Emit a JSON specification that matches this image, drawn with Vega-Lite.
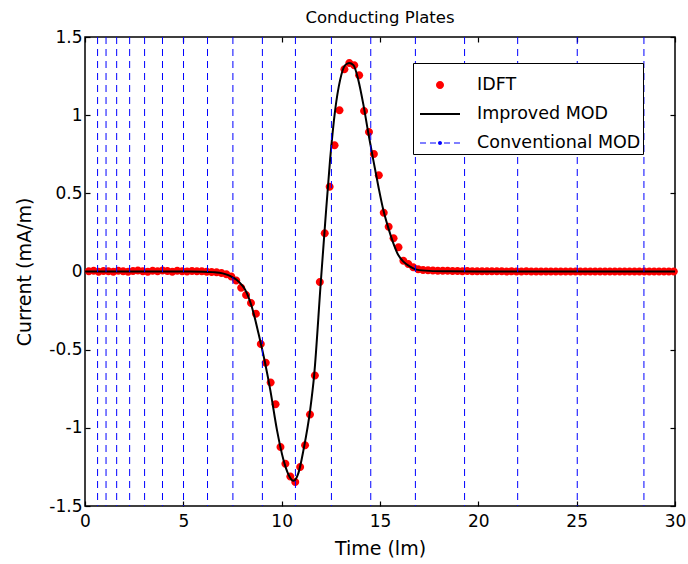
{
  "$schema": "https://vega.github.io/schema/vega-lite/v6.json",
  "width": 590,
  "height": 469,
  "autosize": {"type": "none"},
  "padding": {"left": 85, "top": 37, "right": 13, "bottom": 58},
  "background": "white",
  "title": {"text": "Conducting Plates", "fontSize": 16.5, "font": "DejaVu Sans", "fontWeight": "normal", "color": "black", "offset": 2},
  "data": {"values": [
      {"series": "IDFT", "x": 0.19, "y": 0.002}, {"series": "IDFT", "x": 0.44, "y": 0.004}, {"series": "IDFT", "x": 0.69, "y": -0.001}, {"series": "IDFT", "x": 0.94, "y": 0.003},
      {"series": "IDFT", "x": 1.19, "y": 0.001}, {"series": "IDFT", "x": 1.44, "y": -0.002}, {"series": "IDFT", "x": 1.69, "y": 0.004}, {"series": "IDFT", "x": 1.94, "y": 0.002},
      {"series": "IDFT", "x": 2.19, "y": -0.001}, {"series": "IDFT", "x": 2.44, "y": 0.003}, {"series": "IDFT", "x": 2.69, "y": 0.006}, {"series": "IDFT", "x": 2.94, "y": 0.002},
      {"series": "IDFT", "x": 3.19, "y": -0.002}, {"series": "IDFT", "x": 3.44, "y": 0.004}, {"series": "IDFT", "x": 3.69, "y": 0.001}, {"series": "IDFT", "x": 3.94, "y": 0.006},
      {"series": "IDFT", "x": 4.19, "y": 0.003}, {"series": "IDFT", "x": 4.44, "y": -0.001}, {"series": "IDFT", "x": 4.69, "y": 0.005}, {"series": "IDFT", "x": 4.94, "y": 0.002},
      {"series": "IDFT", "x": 5.19, "y": 0.0}, {"series": "IDFT", "x": 5.44, "y": 0.003}, {"series": "IDFT", "x": 5.69, "y": 0.001}, {"series": "IDFT", "x": 5.94, "y": 0.002},
      {"series": "IDFT", "x": 6.19, "y": -0.001}, {"series": "IDFT", "x": 6.44, "y": -0.003}, {"series": "IDFT", "x": 6.69, "y": -0.005}, {"series": "IDFT", "x": 6.94, "y": -0.010},
      {"series": "IDFT", "x": 7.19, "y": -0.018}, {"series": "IDFT", "x": 7.44, "y": -0.032}, {"series": "IDFT", "x": 7.69, "y": -0.057}, {"series": "IDFT", "x": 7.94, "y": -0.104},
      {"series": "IDFT", "x": 8.19, "y": -0.150}, {"series": "IDFT", "x": 8.44, "y": -0.201}, {"series": "IDFT", "x": 8.69, "y": -0.270}, {"series": "IDFT", "x": 8.94, "y": -0.463},
      {"series": "IDFT", "x": 9.19, "y": -0.583}, {"series": "IDFT", "x": 9.44, "y": -0.710}, {"series": "IDFT", "x": 9.69, "y": -0.849}, {"series": "IDFT", "x": 9.94, "y": -1.123},
      {"series": "IDFT", "x": 10.19, "y": -1.230}, {"series": "IDFT", "x": 10.44, "y": -1.311}, {"series": "IDFT", "x": 10.69, "y": -1.347}, {"series": "IDFT", "x": 10.94, "y": -1.251},
      {"series": "IDFT", "x": 11.19, "y": -1.111}, {"series": "IDFT", "x": 11.44, "y": -0.915}, {"series": "IDFT", "x": 11.69, "y": -0.666}, {"series": "IDFT", "x": 11.94, "y": -0.067},
      {"series": "IDFT", "x": 12.19, "y": 0.244}, {"series": "IDFT", "x": 12.44, "y": 0.542}, {"series": "IDFT", "x": 12.69, "y": 0.808}, {"series": "IDFT", "x": 12.94, "y": 1.032},
      {"series": "IDFT", "x": 13.19, "y": 1.294}, {"series": "IDFT", "x": 13.44, "y": 1.334}, {"series": "IDFT", "x": 13.69, "y": 1.319}, {"series": "IDFT", "x": 13.94, "y": 1.256},
      {"series": "IDFT", "x": 14.19, "y": 1.027}, {"series": "IDFT", "x": 14.44, "y": 0.893}, {"series": "IDFT", "x": 14.69, "y": 0.751}, {"series": "IDFT", "x": 14.94, "y": 0.615},
      {"series": "IDFT", "x": 15.19, "y": 0.376}, {"series": "IDFT", "x": 15.44, "y": 0.286}, {"series": "IDFT", "x": 15.69, "y": 0.212}, {"series": "IDFT", "x": 15.94, "y": 0.155},
      {"series": "IDFT", "x": 16.19, "y": 0.069}, {"series": "IDFT", "x": 16.44, "y": 0.048}, {"series": "IDFT", "x": 16.69, "y": 0.027}, {"series": "IDFT", "x": 16.94, "y": 0.014},
      {"series": "IDFT", "x": 17.19, "y": 0.010}, {"series": "IDFT", "x": 17.44, "y": 0.008}, {"series": "IDFT", "x": 17.69, "y": 0.006}, {"series": "IDFT", "x": 17.94, "y": 0.005},
      {"series": "IDFT", "x": 18.19, "y": 0.004}, {"series": "IDFT", "x": 18.44, "y": 0.004}, {"series": "IDFT", "x": 18.69, "y": 0.003}, {"series": "IDFT", "x": 18.94, "y": 0.003},
      {"series": "IDFT", "x": 19.19, "y": 0.002}, {"series": "IDFT", "x": 19.44, "y": 0.003}, {"series": "IDFT", "x": 19.69, "y": 0.002}, {"series": "IDFT", "x": 19.94, "y": 0.002},
      {"series": "IDFT", "x": 20.19, "y": 0.001}, {"series": "IDFT", "x": 20.44, "y": 0.002}, {"series": "IDFT", "x": 20.69, "y": 0.001}, {"series": "IDFT", "x": 20.94, "y": 0.001},
      {"series": "IDFT", "x": 21.19, "y": 0.001}, {"series": "IDFT", "x": 21.44, "y": 0.0}, {"series": "IDFT", "x": 21.69, "y": 0.001}, {"series": "IDFT", "x": 21.94, "y": 0.0},
      {"series": "IDFT", "x": 22.19, "y": 0.0}, {"series": "IDFT", "x": 22.44, "y": 0.001}, {"series": "IDFT", "x": 22.69, "y": 0.0}, {"series": "IDFT", "x": 22.94, "y": 0.0},
      {"series": "IDFT", "x": 23.19, "y": 0.0}, {"series": "IDFT", "x": 23.44, "y": 0.0}, {"series": "IDFT", "x": 23.69, "y": 0.0}, {"series": "IDFT", "x": 23.94, "y": 0.0},
      {"series": "IDFT", "x": 24.19, "y": 0.0}, {"series": "IDFT", "x": 24.44, "y": 0.0}, {"series": "IDFT", "x": 24.69, "y": 0.0}, {"series": "IDFT", "x": 24.94, "y": 0.0},
      {"series": "IDFT", "x": 25.19, "y": 0.0}, {"series": "IDFT", "x": 25.44, "y": 0.0}, {"series": "IDFT", "x": 25.69, "y": 0.0}, {"series": "IDFT", "x": 25.94, "y": 0.0},
      {"series": "IDFT", "x": 26.19, "y": 0.0}, {"series": "IDFT", "x": 26.44, "y": 0.0}, {"series": "IDFT", "x": 26.69, "y": 0.0}, {"series": "IDFT", "x": 26.94, "y": 0.0},
      {"series": "IDFT", "x": 27.19, "y": 0.0}, {"series": "IDFT", "x": 27.44, "y": 0.0}, {"series": "IDFT", "x": 27.69, "y": 0.0}, {"series": "IDFT", "x": 27.94, "y": 0.0},
      {"series": "IDFT", "x": 28.19, "y": 0.0}, {"series": "IDFT", "x": 28.44, "y": 0.0}, {"series": "IDFT", "x": 28.69, "y": 0.0}, {"series": "IDFT", "x": 28.94, "y": 0.0},
      {"series": "IDFT", "x": 29.19, "y": 0.0}, {"series": "IDFT", "x": 29.44, "y": 0.0}, {"series": "IDFT", "x": 29.69, "y": 0.0}, {"series": "IDFT", "x": 29.94, "y": 0.0},
      {"series": "Improved MOD", "x": 0, "y": 0}, {"series": "Improved MOD", "x": 5, "y": 0}, {"series": "Improved MOD", "x": 6, "y": -0.001}, {"series": "Improved MOD", "x": 6.5, "y": -0.004},
      {"series": "Improved MOD", "x": 7.0, "y": -0.012}, {"series": "Improved MOD", "x": 7.25, "y": -0.022}, {"series": "Improved MOD", "x": 7.5, "y": -0.037}, {"series": "Improved MOD", "x": 7.72, "y": -0.054},
      {"series": "Improved MOD", "x": 8.0, "y": -0.09}, {"series": "Improved MOD", "x": 8.15, "y": -0.118}, {"series": "Improved MOD", "x": 8.48, "y": -0.225}, {"series": "Improved MOD", "x": 8.82, "y": -0.395},
      {"series": "Improved MOD", "x": 9.16, "y": -0.587}, {"series": "Improved MOD", "x": 9.42, "y": -0.757}, {"series": "Improved MOD", "x": 9.76, "y": -1.013}, {"series": "Improved MOD", "x": 10.09, "y": -1.204},
      {"series": "Improved MOD", "x": 10.35, "y": -1.3}, {"series": "Improved MOD", "x": 10.6, "y": -1.339}, {"series": "Improved MOD", "x": 10.85, "y": -1.29}, {"series": "Improved MOD", "x": 11.11, "y": -1.141},
      {"series": "Improved MOD", "x": 11.45, "y": -0.885}, {"series": "Improved MOD", "x": 11.65, "y": -0.666}, {"series": "Improved MOD", "x": 11.99, "y": -0.067}, {"series": "Improved MOD", "x": 12.21, "y": 0.308},
      {"series": "Improved MOD", "x": 12.46, "y": 0.712}, {"series": "Improved MOD", "x": 12.72, "y": 1.032}, {"series": "Improved MOD", "x": 12.97, "y": 1.224}, {"series": "Improved MOD", "x": 13.23, "y": 1.32},
      {"series": "Improved MOD", "x": 13.43, "y": 1.334}, {"series": "Improved MOD", "x": 13.65, "y": 1.32}, {"series": "Improved MOD", "x": 13.9, "y": 1.224}, {"series": "Improved MOD", "x": 14.16, "y": 1.064},
      {"series": "Improved MOD", "x": 14.41, "y": 0.883}, {"series": "Improved MOD", "x": 14.66, "y": 0.712}, {"series": "Improved MOD", "x": 14.92, "y": 0.542}, {"series": "Improved MOD", "x": 15.17, "y": 0.393},
      {"series": "Improved MOD", "x": 15.43, "y": 0.276}, {"series": "Improved MOD", "x": 15.68, "y": 0.18}, {"series": "Improved MOD", "x": 15.93, "y": 0.105}, {"series": "Improved MOD", "x": 16.19, "y": 0.063},
      {"series": "Improved MOD", "x": 16.53, "y": 0.031}, {"series": "Improved MOD", "x": 16.87, "y": 0.012}, {"series": "Improved MOD", "x": 17.5, "y": 0.004}, {"series": "Improved MOD", "x": 18.5, "y": 0.001},
      {"series": "Improved MOD", "x": 20, "y": 0}, {"series": "Improved MOD", "x": 30, "y": 0},
      {"series": "Conventional MOD", "x": 0.64}, {"series": "Conventional MOD", "x": 1.07}, {"series": "Conventional MOD", "x": 1.61}, {"series": "Conventional MOD", "x": 2.27},
      {"series": "Conventional MOD", "x": 3.03}, {"series": "Conventional MOD", "x": 3.94}, {"series": "Conventional MOD", "x": 5.01}, {"series": "Conventional MOD", "x": 6.23},
      {"series": "Conventional MOD", "x": 7.52}, {"series": "Conventional MOD", "x": 9.02}, {"series": "Conventional MOD", "x": 10.70}, {"series": "Conventional MOD", "x": 12.53},
      {"series": "Conventional MOD", "x": 14.53}, {"series": "Conventional MOD", "x": 16.80}, {"series": "Conventional MOD", "x": 19.30}, {"series": "Conventional MOD", "x": 22.00},
      {"series": "Conventional MOD", "x": 25.03}, {"series": "Conventional MOD", "x": 28.42}
  ]},
  "layer": [
    {
      "transform": [{"filter": "datum.series === 'IDFT'"}],
      "mark": {"type": "point", "filled": true, "opacity": 1, "size": 1600, "strokeWidth": 0},
      "encoding": {
        "x": {"field": "x", "type": "quantitative", "scale": {"domain": [0, 30], "nice": false, "zero": false},
          "axis": {"orient": "bottom", "values": [0, 5, 10, 15, 20, 25, 30], "title": "Time (lm)", "labelPadding": 12, "titlePadding": 10, "labelFlush": false}},
        "y": {"field": "y", "type": "quantitative", "scale": {"domain": [-1.5, 1.5], "nice": false, "zero": false},
          "axis": {"orient": "left", "values": [-1.5, -1, -0.5, 0, 0.5, 1, 1.5], "title": "Current (mA/m)", "labelPadding": 8, "titlePadding": 14, "labelFlush": false,
            "labelExpr": "datum.value < 0 ? '-' + format(-datum.value, '~g') : format(datum.value, '~g')"}},
        "color": {"field": "series", "type": "nominal",
          "scale": {"domain": ["IDFT", "Improved MOD", "Conventional MOD"], "range": ["#ff0000", "#000000", "#0000ff"]},
          "legend": {"orient": "none", "legendX": 328, "legendY": 26, "title": null, "titlePadding": 0,
            "padding": 2, "rowPadding": -1.5, "strokeColor": "black", "fillColor": "white",
            "labelFontSize": 17.5, "labelFont": "DejaVu Sans", "labelColor": "black", "labelOffset": 17, "labelLimit": 400, "symbolOffset": 5,
            "symbolSize": 1600, "symbolStrokeWidth": 0, "symbolOpacity": 1, "cornerRadius": 0}},
        "shape": {"field": "series", "type": "nominal",
          "scale": {"domain": ["IDFT", "Improved MOD", "Conventional MOD"],
            "range": [
              "M0.2,0A0.2,0.2,0,1,1,-0.2,0A0.2,0.2,0,1,1,0.2,0Z",
              "M-1,-0.05H1V0.05H-1Z",
              "M-1,-0.03H-0.7V0.03H-1ZM-0.5,-0.03H-0.2V0.03H-0.5ZM0.2,-0.03H0.5V0.03H0.2ZM0.7,-0.03H1V0.03H0.7ZM0.1,0A0.1,0.1,0,1,1,-0.1,0A0.1,0.1,0,1,1,0.1,0Z"
            ]},
          "legend": {"orient": "none", "legendX": 328, "legendY": 26, "title": null, "titlePadding": 0,
            "padding": 2, "rowPadding": -1.5, "strokeColor": "black", "fillColor": "white",
            "labelFontSize": 17.5, "labelFont": "DejaVu Sans", "labelColor": "black", "labelOffset": 17, "labelLimit": 400, "symbolOffset": 5,
            "symbolSize": 1600, "symbolStrokeWidth": 0, "symbolOpacity": 1, "cornerRadius": 0}}
      }
    },
    {
      "transform": [{"filter": "datum.series === 'Improved MOD'"}],
      "mark": {"type": "line", "strokeWidth": 2, "interpolate": "monotone"},
      "encoding": {
        "x": {"field": "x", "type": "quantitative", "axis": {"orient": "top", "values": [0, 5, 10, 15, 20, 25, 30], "labels": false, "title": null}},
        "y": {"field": "y", "type": "quantitative", "axis": {"orient": "right", "values": [-1.5, -1, -0.5, 0, 0.5, 1, 1.5], "labels": false, "title": null}},
        "color": {"field": "series", "type": "nominal", "legend": {"orient": "none", "legendX": 328, "legendY": 26, "title": null}}
      }
    },
    {
      "transform": [{"filter": "datum.series === 'Conventional MOD'"}],
      "mark": {"type": "rule", "strokeWidth": 1, "strokeDash": [7, 5]},
      "encoding": {
        "x": {"field": "x", "type": "quantitative", "axis": null},
        "color": {"field": "series", "type": "nominal", "legend": {"orient": "none", "legendX": 328, "legendY": 26, "title": null}}
      }
    }
  ],
  "resolve": {"axis": {"x": "independent", "y": "independent"}},
  "config": {
    "view": {"stroke": "black", "strokeWidth": 1.5},
    "font": "DejaVu Sans",
    "axis": {"domain": false, "grid": false, "tickColor": "black", "tickSize": -5, "tickWidth": 1.2,
      "labelColor": "black", "labelFontSize": 17, "titleFontSize": 19, "titleFontWeight": "normal", "titleColor": "black",
      "labelFont": "DejaVu Sans", "titleFont": "DejaVu Sans"}
  }
}
